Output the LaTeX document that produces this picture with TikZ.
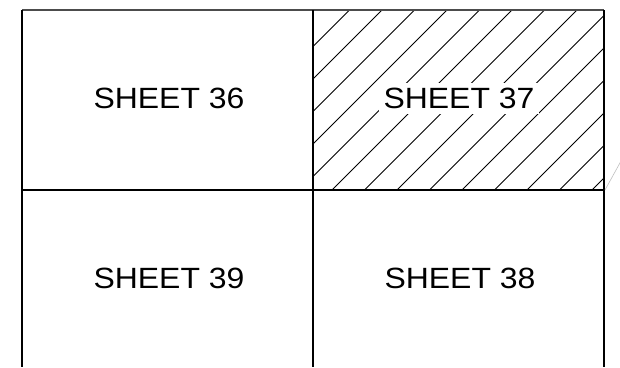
\documentclass[tikz,border=0pt]{standalone}
\usepackage{fontspec}
\setmainfont{Liberation Sans}[FakeStretch=1.09]
\tikzset{
  gridline/.style={line width=1.5pt, black},
  hatchline/.style={line width=0.9pt, black},
  sheetlabel/.style={fill=white, inner sep=5pt, font=\fontsize{29.3}{32}\selectfont}
}
\begin{document}
\begin{tikzpicture}[x=1pt,y=-1pt]
\useasboundingbox (0,0) rectangle (620,367);
% hatching of sheet 37
\begin{scope}
  \clip (313,10) rectangle (604,190);
  \foreach \k in {0,...,13} {
    \pgfmathsetmacro{\c}{359.5+32.5*\k}
    \draw[hatchline] (\c-200,200) -- (\c,0);
  }
\end{scope}
% labels
\node[sheetlabel] (s36) at (169,98.5) {SHEET 36};
\node[sheetlabel] (s37) at (459,98.5) {SHEET 37};
\node[sheetlabel] (s39) at (169,278.5) {SHEET 39};
\node[sheetlabel] (s38) at (460,278.5) {SHEET 38};
% grid
\draw[gridline, black!70] (22,10) -- (604,10);
\draw[gridline] (22,10) -- (22,367);
\draw[gridline] (313,10) -- (313,367);
\draw[gridline] (604,10) -- (604,367);
\draw[gridline] (22,190) -- (604,190);
% faint line at right
\draw[black!25, line width=0.6pt] (605,190) -- (621,161);
\end{tikzpicture}
\end{document}
